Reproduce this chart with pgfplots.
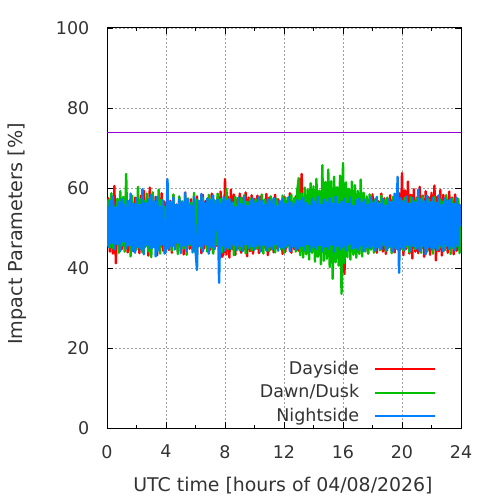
\documentclass[border=0pt]{standalone}
\usepackage{pgfplots}
\usepackage{pgfplotstable}
\pgfplotsset{compat=1.18}
\usepackage{fontspec}
\setmainfont{DejaVu Sans}
\definecolor{txt}{HTML}{333333}
\definecolor{cday}{HTML}{FF0000}
\definecolor{cdawn}{HTML}{00C000}
\definecolor{cnight}{HTML}{0080FF}
\definecolor{cref}{HTML}{9400D3}
\definecolor{cgrid}{HTML}{A0A0A0}
\pgfplotstableread{
x d g n
0.0 51.2 47.8 55.6
0.1 57.4 56.9 45.3
0.2 44.1 45.2 56.8
0.3 56.3 58.7 46.1
0.4 43.6 44.9 57.9
0.5 60.5 55.4 44.7
0.6 41.2 46.8 55.2
0.7 55.8 57.3 45.9
0.8 45.9 43.8 56.4
0.9 57.1 59.2 44.2
1.0 44.7 45.6 57.3
1.1 56.2 57.8 46.5
1.2 45.3 44.1 55.7
1.3 58.4 63.5 44.9
1.4 43.9 45.7 56.9
1.5 56.7 56.4 45.6
1.6 45.8 42.9 58.6
1.7 55.1 58.1 44.3
1.8 44.2 46.3 56.1
1.9 57.6 55.9 43.8
2.0 45.4 44.6 57.5
2.1 56.9 60.3 45.2
2.2 43.7 45.1 55.9
2.3 58.1 57.2 44.6
2.4 44.8 43.9 59.7
2.5 59.3 56.8 43.4
2.6 46.2 45.3 56.3
2.7 55.4 58.6 45.8
2.8 43.1 44.2 57.1
2.9 60.1 57.5 44.9
3.0 44.6 42.7 58.3
3.1 56.4 58.9 45.1
3.2 45.7 45.8 56.6
3.3 57.8 56.2 42.9
3.4 43.2 44.4 57.8
3.5 56.1 59.6 44.4
3.6 45.1 43.6 55.4
3.7 58.7 57.1 45.7
3.8 44.3 46.2 56.9
3.9 56.6 55.3 43.6
4.0 45.9 44.7 44.1
4.1 57.3 57.7 62.2
4.2 44.5 45.4 44.8
4.3 56.8 56.1 56.5
4.4 43.8 44.3 45.3
4.5 58.2 58.4 57.6
4.6 45.6 46.1 44.6
4.7 55.9 55.6 55.8
4.8 44.1 43.5 46.2
4.9 57.5 57.9 57.2
5.0 45.2 45.9 43.7
5.1 56.3 56.7 56.4
5.2 43.4 44.8 45.5
5.3 58.9 58.2 58.8
5.4 45.7 43.3 44.2
5.5 56.1 57.4 57.1
5.6 44.8 45.6 45.9
5.7 57.2 56.3 55.6
5.8 45.3 44.6 43.9
5.9 55.6 58.8 57.7
6.0 44.2 43.8 44.7
6.1 57.9 57.1 39.5
6.2 45.4 45.7 56.8
6.3 56.5 56.8 45.4
6.4 43.7 44.9 58.5
6.5 58.3 57.6 44.1
6.6 44.9 46.3 56.2
6.7 56.8 55.2 45.8
6.8 45.8 44.1 57.4
6.9 57.4 58.3 43.6
7.0 44.6 45.2 56.9
7.1 58.6 57.4 45.2
7.2 43.9 43.6 58.2
7.3 56.2 56.9 44.7
7.4 45.5 45.8 55.9
7.5 57.7 58.6 57.1
7.6 44.3 44.5 36.3
7.7 59.1 57.3 56.0
7.8 42.8 43.9 45.6
7.9 43.5 56.4 57.8
8.0 62.2 45.3 44.3
8.1 43.4 59.8 56.7
8.2 57.8 44.7 45.1
8.3 42.6 57.1 57.3
8.4 59.6 45.9 44.8
8.5 44.7 56.2 56.4
8.6 58.4 43.2 45.7
8.7 43.3 57.8 55.3
8.8 57.1 45.6 44.5
8.9 44.9 56.3 57.6
9.0 58.6 44.4 45.4
9.1 43.8 57.6 56.1
9.2 57.4 45.1 44.2
9.3 44.6 58.2 57.9
9.4 58.9 43.7 45.8
9.5 42.9 56.6 55.6
9.6 57.6 45.9 44.9
9.7 44.2 57.4 56.8
9.8 58.2 44.3 45.3
9.9 43.6 56.9 57.4
10.0 57.3 45.7 44.6
10.1 44.8 57.2 56.3
10.2 58.1 44.8 45.5
10.3 43.7 56.3 57.8
10.4 57.9 45.3 44.1
10.5 44.3 58.4 56.9
10.6 56.8 43.6 45.7
10.7 45.1 57.1 55.8
10.8 58.5 45.8 44.4
10.9 43.2 56.6 57.2
11.0 57.6 44.2 45.2
11.1 44.6 57.9 56.6
11.2 56.9 45.4 44.7
11.3 43.9 56.8 57.5
11.4 58.3 43.9 45.9
11.5 44.9 57.3 55.4
11.6 57.2 45.6 44.3
11.7 45.4 56.2 56.8
11.8 56.4 44.7 45.1
11.9 43.5 58.1 57.3
12.0 57.8 43.8 44.8
12.1 44.1 57.6 56.2
12.2 56.6 45.2 45.6
12.3 45.6 56.4 57.7
12.4 58.7 44.6 44.2
12.5 43.8 58.3 56.5
12.6 56.3 45.7 45.3
12.7 44.7 57.5 55.9
12.8 57.9 44.1 44.6
12.9 45.2 59.4 57.1
13.0 44.3 62.5 44.9
13.1 57.4 43.2 56.8
13.2 63.5 58.7 45.4
13.3 43.6 42.6 57.6
13.4 56.8 60.1 44.5
13.5 45.3 43.4 56.3
13.6 58.1 59.6 45.8
13.7 44.6 42.1 55.7
13.8 57.5 61.2 44.2
13.9 43.9 43.8 57.4
14.0 56.9 60.4 45.1
14.1 45.1 41.6 56.6
14.2 58.4 62.3 44.7
14.3 44.2 42.8 57.8
14.4 57.2 59.3 45.6
14.5 43.7 40.9 55.8
14.6 56.3 65.7 44.3
14.7 45.6 41.8 57.2
14.8 57.7 61.5 45.2
14.9 44.4 42.3 56.4
15.0 58.2 64.6 44.8
15.1 43.8 40.2 57.5
15.2 57.1 61.7 45.7
15.3 45.2 37.3 56.1
15.4 56.6 62.8 44.1
15.5 44.1 41.4 57.9
15.6 58.6 60.2 45.4
15.7 43.4 40.6 55.9
15.8 57.9 63.1 44.6
15.9 45.7 33.5 56.7
16.0 56.4 66.2 45.3
16.1 38.5 41.3 57.3
16.2 59.1 61.4 44.4
16.3 44.6 42.7 56.2
16.4 57.3 59.8 45.9
16.5 43.9 42.1 57.6
16.6 56.8 61.6 44.8
16.7 45.4 43.3 55.6
16.8 58.3 60.7 45.1
16.9 44.2 42.6 56.9
17.0 57.6 59.3 44.5
17.1 43.7 43.5 57.4
17.2 56.5 62.1 45.6
17.3 45.8 42.9 56.3
17.4 58.1 58.8 44.2
17.5 44.4 44.1 57.1
17.6 57.2 57.9 45.3
17.7 43.6 43.6 55.9
17.8 56.9 58.4 44.9
17.9 45.1 44.6 57.7
18.0 58.4 56.6 45.6
18.1 44.7 43.8 56.4
18.2 57.3 57.2 44.3
18.3 43.8 45.2 57.8
18.4 56.7 56.3 45.2
18.5 45.3 44.4 56.1
18.6 58.6 58.1 44.7
18.7 44.1 45.7 57.3
18.8 57.4 56.9 45.8
18.9 43.5 44.2 55.7
19.0 56.8 57.6 44.4
19.1 45.6 45.1 57.2
19.2 58.2 56.4 45.4
19.3 44.3 43.7 56.6
19.4 57.1 57.8 44.1
19.5 43.9 45.3 58.6
19.6 56.4 56.1 44.8
19.7 45.2 44.6 62.8
19.8 58.7 57.3 38.8
19.9 44.6 45.8 57.4
20.0 63.7 56.7 45.1
20.1 43.2 44.3 56.8
20.2 59.4 57.5 44.6
20.3 44.8 45.4 57.9
20.4 61.6 56.2 45.7
20.5 43.6 43.9 56.2
20.6 58.3 57.7 44.3
20.7 42.4 45.6 57.5
20.8 59.7 56.8 45.4
20.9 44.1 44.7 56.4
21.0 57.6 57.4 44.9
21.1 43.7 45.2 59.6
21.2 60.3 56.6 44.2
21.3 44.9 43.8 57.3
21.4 58.1 57.9 45.6
21.5 42.8 45.5 56.7
21.6 59.2 56.3 43.4
21.7 44.4 44.1 58.1
21.8 57.7 57.2 45.3
21.9 43.3 45.9 56.5
22.0 58.8 56.5 44.6
22.1 44.6 43.6 57.6
22.2 60.6 57.8 45.1
22.3 41.9 45.3 56.3
22.4 57.9 56.4 44.4
22.5 44.2 44.8 58.2
22.6 59.5 57.1 45.7
22.7 43.1 45.1 55.8
22.8 58.3 56.7 44.2
22.9 44.7 44.4 57.4
23.0 57.2 58.2 45.5
23.1 43.8 45.7 56.9
23.2 59.1 56.9 44.7
23.3 44.9 43.5 57.2
23.4 57.6 57.4 45.3
23.5 43.4 44.9 56.1
23.6 58.4 56.2 44.4
23.7 44.3 45.4 57.6
23.8 57.1 57.3 45.6
23.9 45.6 43.7 55.9
24.0 50.8 51.3 50.4
}\datatable
\begin{document}
\fontsize{17.5bp}{21bp}\selectfont
\begin{tikzpicture}
\path[use as bounding box] (0,0) rectangle (500bp,500bp);
\begin{axis}[
  at={(107bp,72bp)}, anchor=south west,
  scale only axis, width=354bp, height=400bp,
  xmin=0, xmax=24, ymin=0, ymax=100,
  xtick={0,4,...,24}, minor xtick={2,6,...,22},
  ytick={0,20,...,100},
  tick align=inside, major tick length=6bp, minor tick length=3bp,
  tick style={black, line width=0.8bp},
  axis line style={black, line width=1bp},
  grid=major,
  major grid style={cgrid, line width=0.8bp, dash pattern=on 1.5bp off 2.5bp},
  /pgf/number format/assume math mode=true,
  every tick label/.append style={font=\fontsize{17.5bp}{21bp}\selectfont, text=txt, inner sep=0pt},
  xticklabel style={anchor=north, yshift=-17bp},
  yticklabel style={anchor=east, xshift=-17.5bp},
  xlabel={UTC time [hours of 04/08/2026]},
  ylabel={Impact Parameters [\%]},
  label style={text=txt, inner sep=0pt},
  xlabel style={font=\fontsize{18.9bp}{22bp}\selectfont, at={(axis description cs:0.4972,0)}, anchor=base, yshift=-63.7bp},
  ylabel style={font=\fontsize{19.2bp}{23bp}\selectfont, at={(axis description cs:-0.2381,0.485)}, anchor=base},
  legend plot pos=right,
  legend cell align=right,
  legend image code/.code={\draw[#1,line width=2bp] (0bp,0.3bp) -- (60bp,0.3bp);},
  legend style={at={(0.9300,0.0868)}, anchor=east, draw=none, fill=none,
    inner sep=0pt, outer sep=0pt, column sep=15bp, row sep=5.5bp,
    font=\fontsize{17.5bp}{21bp}\selectfont, text=txt,
    nodes={inner sep=0pt, text height=13.5bp, text depth=4.5bp}},
  clip=true,
]
\addplot[cref, line width=0.8bp, forget plot] coordinates {(0,74) (24,74)};
\addplot[cday, line width=2.4bp, line join=round] table[x=x, y=d] {\datatable};
\addlegendentry{Dayside}
\addplot[cdawn, line width=2.4bp, line join=round] table[x=x, y=g] {\datatable};
\addlegendentry{Dawn/Dusk}
\addplot[cnight, line width=2.4bp, line join=round] table[x=x, y=n] {\datatable};
\addlegendentry{Nightside}
\end{axis}
\end{tikzpicture}
\end{document}
